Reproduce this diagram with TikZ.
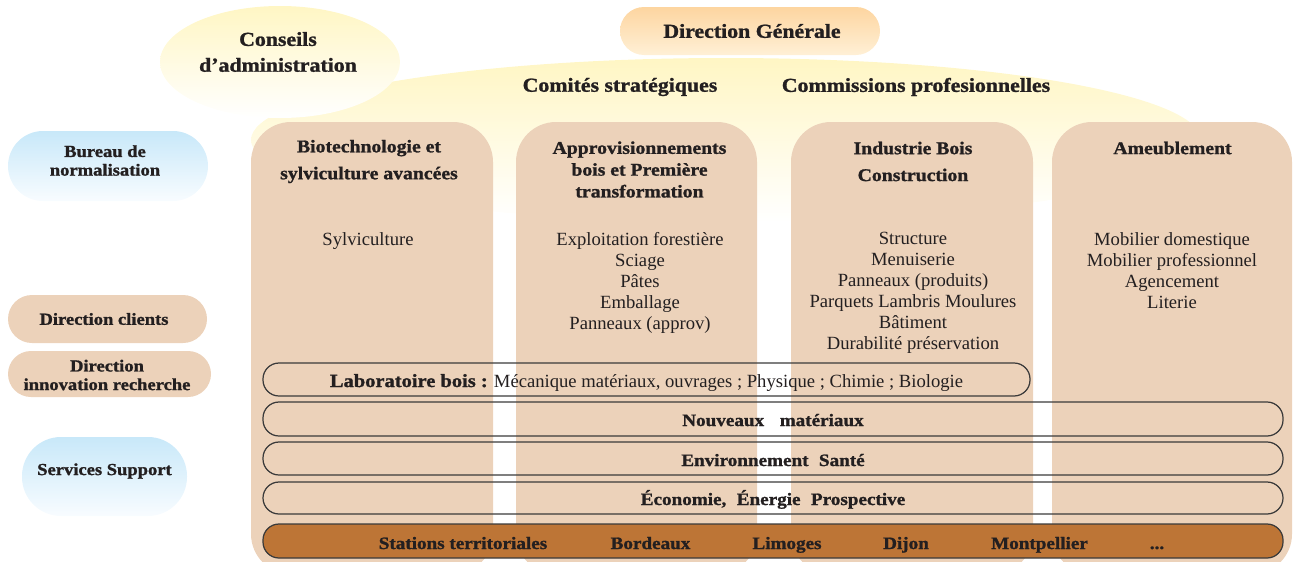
\documentclass[tikz,border=0pt]{standalone}
\usepackage{fontspec}
\setmainfont{Liberation Serif}
\newfontfamily\hdfont{Liberation Serif}[FakeStretch=1.1, BoldFeatures={FakeBold=1.2}]
\usetikzlibrary{shapes.geometric}
\definecolor{coltan}{HTML}{ECD2BA}
\definecolor{colbrown}{HTML}{BD7536}
\definecolor{ink}{HTML}{231F20}
\definecolor{barline}{HTML}{3A3A3A}
\definecolor{yelltop}{HTML}{FFF6C4}
\definecolor{yellmid}{HTML}{FFFADC}
\definecolor{peachtop}{HTML}{FDD5A0}
\definecolor{peachbot}{HTML}{FFF0D6}
\definecolor{bluetop}{HTML}{C8E8F9}
\definecolor{bluebot}{HTML}{F8FCFF}
\begin{document}
\begin{tikzpicture}[x=0.02cm,y=-0.02cm,
  box/.style args={#1/#2/#3}{rectangle, rounded corners=#3*0.02cm,
     minimum width=#1*0.02cm, minimum height=#2*0.02cm, inner sep=0pt, draw=none},
  column/.style={box=#1, fill=coltan},
  bandbar/.style={box=#1, draw=barline, line width=0.7pt},
  hd/.style={font=\hdfont\bfseries\fontsize{10.2}{12.4}\selectfont, text=ink, align=center, inner sep=0pt},
  big/.style={font=\hdfont\bfseries\fontsize{11.3}{14.7}\selectfont, text=ink, align=center, inner sep=0pt},
  side/.style={font=\hdfont\bfseries\fontsize{9.6}{10.6}\selectfont, text=ink, align=center, inner sep=0pt},
  bartext/.style={font=\hdfont\bfseries\fontsize{9.9}{12}\selectfont, text=ink, inner sep=0pt},
  sttext/.style={bartext, anchor=base},
  item/.style={font=\fontsize{10.6}{11.9}\selectfont, text=ink, align=center, inner sep=0pt}
]
\useasboundingbox (0,0) rectangle (1297,561);
\clip (0,0) rectangle (1297,561);

% big yellow arc
\node[ellipse, minimum width=950*0.02cm, minimum height=164*0.02cm, inner sep=0pt,
      top color=yelltop, middle color=yellmid, bottom color=white] (arc) at (726,140) {};

% Conseils ellipse
\node[ellipse, minimum width=240*0.02cm, minimum height=112*0.02cm, inner sep=0pt,
      top color=yelltop, bottom color=white] (conseilsbg) at (280,62) {};
\node[big] (conseils) at (278,52) {Conseils\\d’administration};

% Direction Generale
\node[box=260/48/24, top color=peachtop, bottom color=peachbot] (dgbg) at (750,31) {};
\node[big] (dg) at (752,31) {Direction Générale};

% columns
\node[column=242/452/40] (c1) at (372,348) {};
\node[column=241/452/40] (c2) at (636.5,348) {};
\node[column=242/452/40] (c3) at (912,348) {};
\node[column=240/452/40] (c4) at (1172,348) {};

\node[big] (comites) at (620,87) {Comités stratégiques};
\node[big] (commissions) at (916,87) {Commissions profesionnelles};

% column headers
\node[hd, font=\hdfont\bfseries\fontsize{10.2}{15.3}\selectfont] (h1) at (369,161.5) {Biotechnologie et\\sylviculture avancées};
\node[hd] (h2) at (639.5,169.5) {Approvisionnements\\bois et Première\\transformation};
\node[hd, font=\hdfont\bfseries\fontsize{10.2}{15.3}\selectfont] (h3) at (913,161.5) {Industrie Bois\\Construction};
\node[hd] (h4) at (1172.5,148) {Ameublement};

% items
\node[item, anchor=base] (i1) at (368,245) {Sylviculture};
\node[item, anchor=north] (i2) at (640,232) {Exploitation forestière\\Sciage\\Pâtes\\Emballage\\Panneaux (approv)};
\node[item, anchor=north] (i3) at (913,232) {Structure\\Menuiserie\\Panneaux (produits)\\Parquets Lambris Moulures\\Bâtiment\\Durabilité préservation};
\node[item, anchor=north] (i4) at (1172,232) {Mobilier domestique\\Mobilier professionnel\\Agencement\\Literie};

% side pills
\node[box=200/70/35, top color=bluetop, bottom color=bluebot] (bnbg) at (108,166) {};
\node[side] (bn) at (105,160.5) {Bureau de\\normalisation};
\node[box=199/48/24, fill=coltan] (dcbg) at (107.5,319) {};
\node[side] (dc) at (104,319) {Direction clients};
\node[box=203/46/23, fill=coltan] (dibg) at (109.5,374) {};
\node[side] (di) at (107,375) {Direction\\innovation recherche};
\node[box=165/79/39, top color=bluetop, bottom color=bluebot] (ssbg) at (104.5,476.5) {};
\node[side] (ss) at (104.5,471) {Services Support};

% horizontal bands
\node[bandbar=767/33/16] (lab) at (646.5,379.5) {};
\node[font=\fontsize{10.6}{12}\selectfont, text=ink, inner sep=0pt, anchor=base] (labt) at (646.5,387)
  {{\hdfont\bfseries Laboratoire bois :} Mécanique matériaux, ouvrages ; Physique ; Chimie ; Biologie};
\node[bandbar=1020/34/16] (nm) at (773,419) {};
\node[sttext] (nmt) at (773,426) {Nouveaux\hspace{0.9em}matériaux};
\node[bandbar=1020/33/16] (es) at (773,458.5) {};
\node[sttext] (est) at (773,466) {Environnement\hspace{0.6em}Santé};
\node[bandbar=1020/32/16] (ec) at (773,498) {};
\node[sttext] (ect) at (773,505) {Économie,\hspace{0.6em}Énergie\hspace{0.6em}Prospective};
\node[bandbar=1020/34/16, fill=colbrown] (st) at (773,541) {};
\node[sttext] (st1) at (463,549) {Stations territoriales};
\node[sttext] (st2) at (650.5,549) {Bordeaux};
\node[sttext] (st3) at (787,549) {Limoges};
\node[sttext] (st4) at (906,549) {Dijon};
\node[sttext] (st5) at (1039.5,549) {Montpellier};
\node[sttext] (st6) at (1157,549) {...};
\end{tikzpicture}
\end{document}
